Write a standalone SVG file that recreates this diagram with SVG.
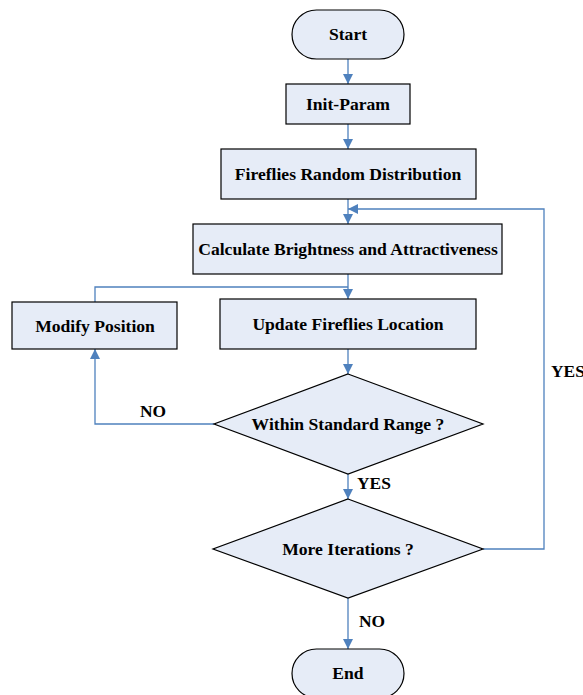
<svg xmlns="http://www.w3.org/2000/svg" width="583" height="695" viewBox="0 0 583 695">
<style>
.n{fill:#e6ecf7;stroke:#000;stroke-width:1.2}
.t{font-family:"Liberation Serif",serif;font-weight:bold;font-size:17.6px;fill:#000;text-anchor:middle}
.l{font-family:"Liberation Serif",serif;font-weight:bold;font-size:17.4px;fill:#000}
.c{fill:none;stroke:#4f81bd;stroke-width:1.3}
</style>
<defs>
<marker id="a" viewBox="0 0 10 10" refX="10" refY="5" markerWidth="10" markerHeight="10" markerUnits="userSpaceOnUse" orient="auto">
<path d="M0,0 L10,5 L0,10 z" fill="#4f81bd"/>
</marker>
</defs>
<rect width="583" height="695" fill="#fff"/>
<g id="connectors">
<path class="c" d="M348,59 V84" marker-end="url(#a)"/>
<path class="c" d="M348,124 V149" marker-end="url(#a)"/>
<path class="c" d="M348,199 V224" marker-end="url(#a)"/>
<path class="c" d="M348,274 V299" marker-end="url(#a)"/>
<path class="c" d="M95,302 V287 H348"/>
<path class="c" d="M348,349 V374" marker-end="url(#a)"/>
<path class="c" d="M214,424 H95 V349" marker-end="url(#a)"/>
<path class="c" d="M348,474 V499" marker-end="url(#a)"/>
<path class="c" d="M483,549 H544 V209 H348" marker-end="url(#a)"/>
<path class="c" d="M348,598 V649" marker-end="url(#a)"/>
</g>
<g id="start"><rect class="n" x="292" y="10" width="112" height="49" rx="24.5"/><text class="t" x="348" y="40">Start</text></g>
<g id="init"><rect class="n" x="286" y="84" width="124" height="40"/><text class="t" x="348" y="110">Init-Param</text></g>
<g id="random"><rect class="n" x="221" y="149" width="255" height="50"/><text class="t" x="348" y="180">Fireflies Random Distribution</text></g>
<g id="calc"><rect class="n" x="193" y="224" width="309" height="50"/><text class="t" x="348" y="255">Calculate Brightness and Attractiveness</text></g>
<g id="modify"><rect class="n" x="12" y="302" width="165" height="47"/><text class="t" x="95" y="332">Modify Position</text></g>
<g id="update"><rect class="n" x="220" y="299" width="256" height="50"/><text class="t" x="348" y="330">Update Fireflies Location</text></g>
<g id="within"><path class="n" d="M348,374 L483,424 L348,474 L214,424 Z"/><text class="t" x="348" y="430">Within Standard Range ?</text></g>
<g id="more"><path class="n" d="M348,499 L483,549 L348,598 L213,549 Z"/><text class="t" x="348" y="555">More Iterations ?</text></g>
<g id="end"><rect class="n" x="292" y="649" width="112" height="49" rx="24.5"/><text class="t" x="348" y="679">End</text></g>
<g id="labels">
<text class="l" x="140" y="417">NO</text>
<text class="l" x="357" y="489">YES</text>
<text class="l" x="551" y="377">YES</text>
<text class="l" x="359" y="627">NO</text>
</g>
</svg>
